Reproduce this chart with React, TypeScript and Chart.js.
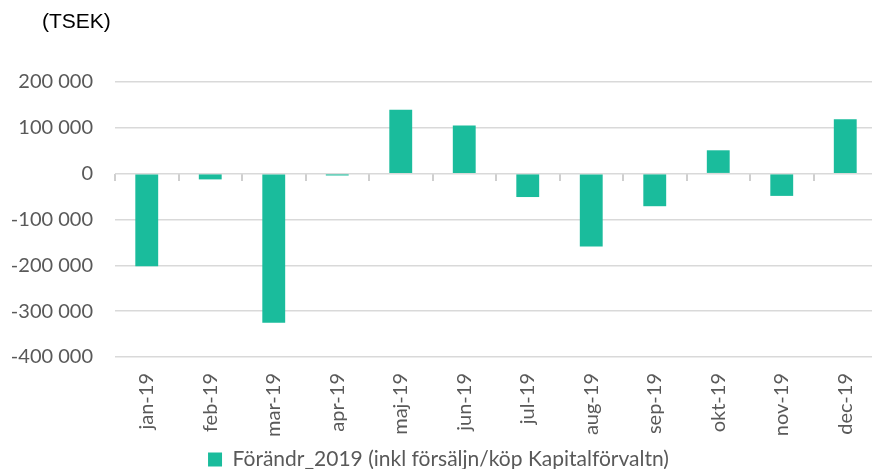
import React, { useEffect, useRef } from "react";
import { Chart, registerables } from "chart.js";

Chart.register(...registerables);

const categories = ["jan-19", "feb-19", "mar-19", "apr-19", "maj-19", "jun-19", "jul-19", "aug-19", "sep-19", "okt-19", "nov-19", "dec-19"];
const seriesValues = [-202000, -12500, -325000, -4000, 139500, 105000, -51000, -159000, -71000, 51000, -48500, 119000];
const seriesName = "Förändr_2019 (inkl försäljn/köp Kapitalförvaltn)";
const unitLabel = "(TSEK)";
const yMin = -400000;
const yMax = 200000;
const yStep = 100000;

function fmt(v: number): string {
  const sign = v < 0 ? "-" : "";
  const s = Math.abs(Math.round(v)).toString();
  return sign + s.replace(/\B(?=(\d{3})+(?!\d))/g, " ");
}

const unitPlugin = {
  id: "unitLabel",
  afterDraw(chart: any) {
    const ctx = chart.ctx;
    ctx.save();
    ctx.font = "21px 'Liberation Sans', Arial, sans-serif";
    ctx.fillStyle = "#000000";
    ctx.textAlign = "left";
    ctx.textBaseline = "alphabetic";
    ctx.fillText(unitLabel, 42, 28);
    ctx.restore();
  },
};

export default function App() {
  const ref = useRef<HTMLCanvasElement | null>(null);
  useEffect(() => {
    document.body.style.margin = "0";
    const canvas = ref.current;
    if (!canvas) return;
    const chart = new Chart(canvas, {
      type: "bar",
      data: {
        labels: categories,
        datasets: [
          {
            label: seriesName,
            data: seriesValues,
            backgroundColor: "#1ABC9C",
            borderWidth: 0,
            barPercentage: 0.36,
            categoryPercentage: 1,
          },
        ],
      },
      plugins: [unitPlugin],
      options: {
        responsive: false,
        animation: false,
        maintainAspectRatio: false,
        layout: { padding: { top: 82, left: 0, right: 0, bottom: -11 } },
        plugins: {
          tooltip: { enabled: false },
          title: { display: false },
          legend: {
            position: "bottom",
            labels: {
              boxWidth: 14,
              boxHeight: 14,
              padding: 2,
              color: "#595959",
              font: { family: "Lato", size: 21 },
            },
          },
        },
        scales: {
          x: {
            grid: { display: false },
            border: { display: false },
            ticks: {
              color: "#595959",
              font: { family: "Lato", size: 20 },
              minRotation: 90,
              maxRotation: 90,
              padding: 8,
              autoSkip: false,
            },
            afterFit: (scale: any) => {
              scale.height = 90;
              scale.paddingLeft = 0;
              scale.paddingRight = 0;
            },
          },
          x2: {
            type: "category",
            labels: categories,
            position: { y: 0 } as any,
            offset: true,
            grid: {
              offset: true,
              drawOnChartArea: false,
              drawTicks: true,
              tickLength: 7,
              color: "#cfcfcf",
              lineWidth: 2,
            },
            border: { display: false },
            ticks: { display: false },
            afterFit: (scale: any) => {
              scale.paddingLeft = 0;
              scale.paddingRight = 0;
            },
          },
          y: {
            min: yMin,
            max: yMax,
            ticks: {
              stepSize: yStep,
              color: "#595959",
              font: { family: "Lato", size: 20 },
              padding: 22,
              callback: (v: any) => fmt(Number(v)),
            },
            grid: { color: "#d9d9d9", lineWidth: 1.5, drawTicks: false },
            border: { display: false },
            afterFit: (scale: any) => {
              scale.width = 115;
            },
          },
        },
      },
    } as any);
    return () => chart.destroy();
  }, []);
  return (
    <div style={{ width: 872, height: 469, overflow: "hidden" }}>
      <canvas ref={ref} width={877} height={469} style={{ display: "block" }} />
    </div>
  );
}
